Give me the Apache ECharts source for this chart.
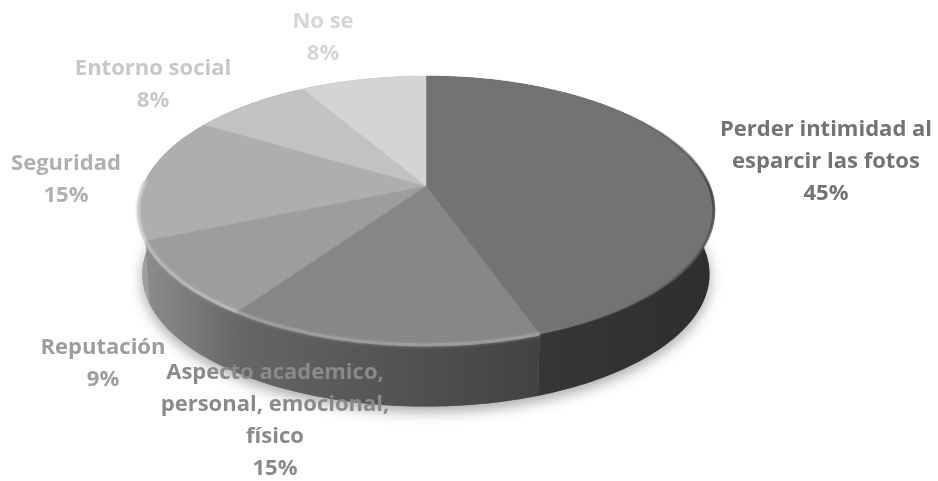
<!DOCTYPE html>
<html><head><meta charset="utf-8">
<style>html,body{margin:0;padding:0;background:#fff}#c{width:938px;height:481px}</style>
<script src="https://cdn.jsdelivr.net/npm/echarts@6/dist/echarts.min.js"></script>
</head><body><div id="c"></div>
<script>
const categories = ['Perder intimidad al\nesparcir las fotos','Aspecto academico,\npersonal, emocional,\nfísico','Reputación','Seguridad','Entorno social','No se'];
const values = [44.6,15,9,15,8,8.4];
const faceColors = ['#737373','#878787','#9d9d9d','#aeaeae','#c2c2c2','#d4d4d4'];
const labelColors = ['#737373','#8a8a8a','#9d9d9d','#b0b0b0','#c8c8c8','#d6d6d6'];
const rimColors = [null,'#a2a2a2','#bcbcbc','#d0d0d0','#c2c2c2','#d4d4d4'];
const sideStops = [['#3c3c3c','#2e2e2e'],['#666666','#424242'],['#8c8c8c','#666666'],['#a0a0a0','#8c8c8c'],['#888888','#888888'],['#888888','#888888']];
const labelCenters = [[826,162],[275,421],[103,364],[66,180],[153,85],[323,38]];
const total = values.reduce((a,b)=>a+b,0);
const cx=426,cy=186,a=283,b=130,k=0.182;
const depthY=64,bottomScale=0.985;
const rimFrom=0.95,rimTo=4.75;
const darkRim={type:'linear',x:0,y:0,x2:0,y2:1,colorStops:[
  {offset:0,color:'rgba(70,70,70,0)'},{offset:0.35,color:'rgba(70,70,70,0.9)'},{offset:0.75,color:'rgba(90,90,90,0.6)'},{offset:1,color:'rgba(115,115,115,0)'}]};
function proj(t,bottom){
  const X=Math.sin(t),Y=-Math.cos(t),w=1-k*Y,s=bottom?bottomScale:1;
  return [cx+s*a*X/w,(bottom?cy+depthY:cy)+s*b*Y/w];
}
function arc(t0,t1,bottom){
  const n=Math.max(2,Math.ceil((t1-t0)/0.02)),p=[];
  for(let i=0;i<=n;i++)p.push(proj(t0+(t1-t0)*i/n,bottom));
  return p;
}
function range(i){
  let s=0;for(let j=0;j<i;j++)s+=values[j];
  return [s/total*2*Math.PI,(s+values[i])/total*2*Math.PI];
}
const data=values.map(v=>[v]);
function renderSide(p){
  const i=p.dataIndex,[t0,t1]=range(i);
  const pts=arc(t0,t1,false).concat(arc(t0,t1,true).reverse());
  const st=sideStops[i];
  return {type:'polygon',shape:{points:pts},style:{
    fill:{type:'linear',x:0,y:0,x2:1,y2:0,colorStops:[{offset:0,color:st[0]},{offset:1,color:st[1]}]},
    stroke:null}};
}
function renderShadow(p){
  if(p.dataIndex!==0)return null;
  return {type:'polygon',shape:{points:arc(0,2*Math.PI,true)},style:{fill:'#777',shadowBlur:14,shadowColor:'rgba(0,0,0,0.35)',shadowOffsetY:5}};
}
function renderTop(p){
  const i=p.dataIndex,[t0,t1]=range(i);
  const r0=Math.max(t0,rimFrom),r1=Math.min(t1,rimTo);
  const ch=[{type:'polygon',shape:{points:[[cx,cy]].concat(arc(t0,t1,false))},style:{fill:faceColors[i],stroke:faceColors[i],lineWidth:0.5}}];
  if(r1>r0){
    const st=i===0?{fill:null,stroke:darkRim,lineWidth:3}:{fill:null,stroke:rimColors[i],lineWidth:3,opacity:0.75,shadowBlur:3,shadowColor:rimColors[i]};
    ch.push({type:'polyline',shape:{points:arc(r0,r1,false)},style:st});
  }
  return {type:'group',children:ch};
}
function renderLabel(p){
  const i=p.dataIndex;
  return {type:'text',x:labelCenters[i][0],y:labelCenters[i][1],style:{
    text:categories[i]+'\n'+values[i].toFixed(0)+'%',fill:labelColors[i],align:'center',verticalAlign:'middle',
    font:'bold 22px "Open Sans"',lineHeight:32}};
}
const chart=echarts.init(document.getElementById('c'),null,{renderer:'canvas'});
const common={type:'custom',coordinateSystem:'none',data,animation:false,silent:true};
chart.setOption({animation:false,backgroundColor:'#fff',series:[
  Object.assign({},common,{z:1,renderItem:renderShadow}),
  Object.assign({},common,{z:2,renderItem:renderSide}),
  Object.assign({},common,{z:3,renderItem:renderTop}),
  Object.assign({},common,{z:4,renderItem:renderLabel})
]});
</script></body></html>
